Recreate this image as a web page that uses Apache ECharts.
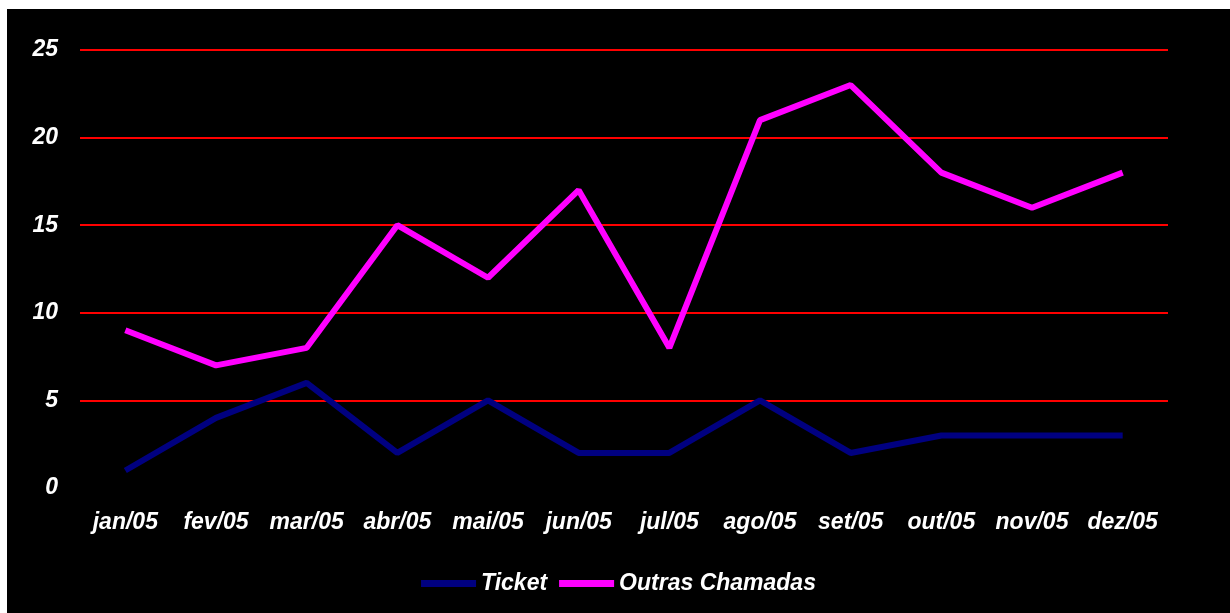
<!DOCTYPE html>
<html><head><meta charset="utf-8">
<script src="https://cdn.jsdelivr.net/npm/echarts@6/dist/echarts.min.js"></script>
<style>
html,body{margin:0;padding:0;background:#fff;}
#c{position:absolute;left:7px;top:9px;width:1223px;height:604px;background:#000;}
</style></head><body>
<div id="c"></div>
<script>
const categories = ['jan/05','fev/05','mar/05','abr/05','mai/05','jun/05','jul/05','ago/05','set/05','out/05','nov/05','dez/05'];
const ticket = [1,4,6,2,5,2,2,5,2,3,3,3];
const outras = [9,7,8,15,12,17,8,21,23,18,16,18];
const seriesNames = ['Ticket','Outras Chamadas'];

const chart = echarts.init(document.getElementById('c'));
const font = {color:'#fff', fontFamily:'Liberation Sans, Arial, sans-serif', fontWeight:'bold', fontStyle:'italic', fontSize:23};
chart.setOption({
  backgroundColor:'#000',
  animation:false,
  grid:{left:73, top:41, width:1088, height:438, containLabel:false},
  legend:{
    data:seriesNames, bottom:13, left:'center', icon:'rect', itemWidth:55, itemHeight:7, itemGap:12,
    textStyle:Object.assign({}, font, {fontSize:23})
  },
  xAxis:{
    type:'category', data:categories, boundaryGap:true,
    axisLine:{show:false}, axisTick:{show:false},
    axisLabel:Object.assign({}, font, {margin:23, interval:0})
  },
  yAxis:{
    type:'value', min:0, max:25, interval:5,
    axisLine:{show:false}, axisTick:{show:false},
    axisLabel:Object.assign({}, font, {margin:22}),
    splitLine:{show:true, showMinLine:false, lineStyle:{color:'#ff0000', width:2}},
    showMinLabel:true
  },
  series:[
    {name:'Ticket', type:'line', data:ticket, symbol:'none', lineStyle:{color:'#000080', width:6}, itemStyle:{color:'#000080'}},
    {name:'Outras Chamadas', type:'line', data:outras, symbol:'none', lineStyle:{color:'#ff00ff', width:6}, itemStyle:{color:'#ff00ff'}}
  ]
});
</script>
</body></html>
